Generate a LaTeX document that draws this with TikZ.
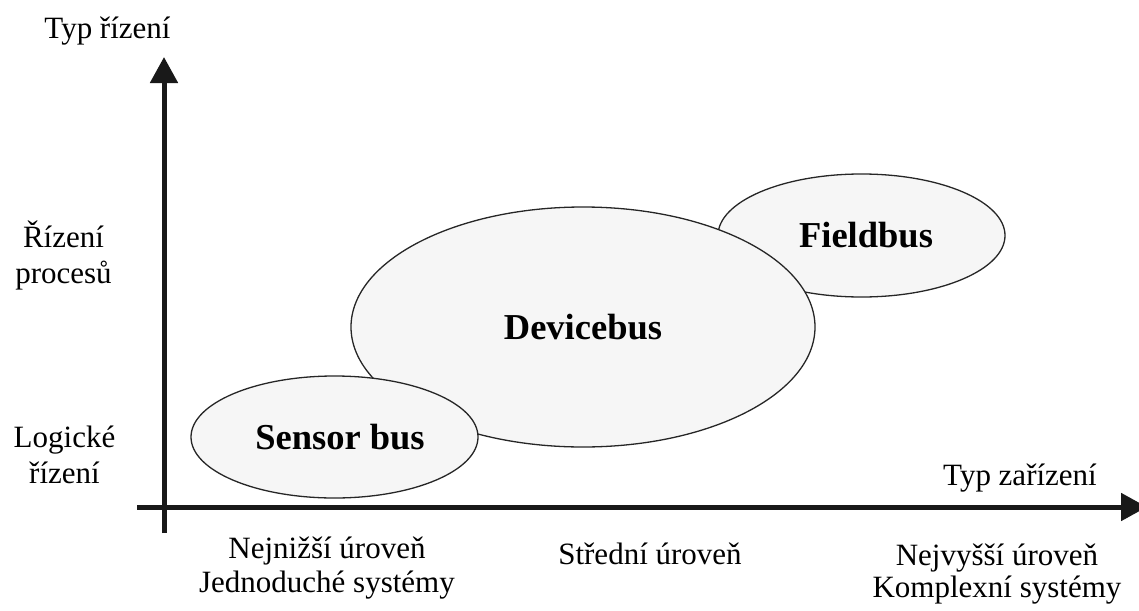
\documentclass[tikz,border=0pt]{standalone}
\usepackage{fontspec}
\setmainfont{Liberation Serif}
\usetikzlibrary{arrows.meta,shapes.geometric}
\definecolor{busfill}{gray}{0.965}
\definecolor{axiscol}{gray}{0.1}
\tikzset{
  bus/.style={ellipse, draw=black!85, line width=1.3pt, fill=busfill, inner sep=0pt,
    font=\fontsize{36.5}{40}\selectfont\bfseries},
  axislabel/.style={font=\fontsize{31}{36}\selectfont, align=center, inner sep=0pt},
  axisline/.style={line width=5pt, draw=axiscol, -{Triangle[length=26pt,width=27pt]}}
}

\begin{document}
\begin{tikzpicture}[x=1pt,y=-1pt]
		%%%%% START %%%%%
		\useasboundingbox (0,0) rectangle (1139,610);
		
		% bus ellipses, back to front (text nudged off centre as in the original)
		\node[bus, minimum width=287pt, minimum height=123pt] (field) at (861.5,235.5) {\hspace{9pt}Fieldbus};
		\node[bus, minimum width=464pt, minimum height=240pt] (device) at (583,327) {Devicebus\hspace{16pt}};
		\node[bus, minimum width=287pt, minimum height=122pt] (sensor) at (334.5,437) {\hspace{11pt}Sensor bus};
		
		% axes
		\coordinate (yfoot) at (164,533);
		\coordinate (ytip) at (164,57);
		\coordinate (xfoot) at (137,507);
		\coordinate (xtip) at (1147,507);
		\draw[axisline] (yfoot) -- (ytip);
		\draw[axisline] (xfoot) -- (xtip);
		
		% axis titles
		\node[axislabel, anchor=base] (ytitle) at (107.5,38) {Typ řízení};
		\node[axislabel, anchor=base] (xtitle) at (1020,485) {Typ zařízení};
		
		% vertical scale (base = last line)
		\node[axislabel, anchor=base] (process) at (63.5,283) {Řízení\\procesů};
		\node[axislabel, anchor=base] (logic) at (64.5,483) {Logické\\řízení};
		
		% horizontal scale
		\node[axislabel, anchor=base] (low) at (327,592) {Nejnižší úroveň\\[-2pt]Jednoduché systémy};
		\node[axislabel, anchor=base] (mid) at (650,564) {Střední úroveň};
		\node[axislabel, anchor=base] (high) at (997,597) {Nejvyšší úroveň\\[-4pt]Komplexní systémy};
		
		%%%%% END %%%%%
\end{tikzpicture}
\end{document}
